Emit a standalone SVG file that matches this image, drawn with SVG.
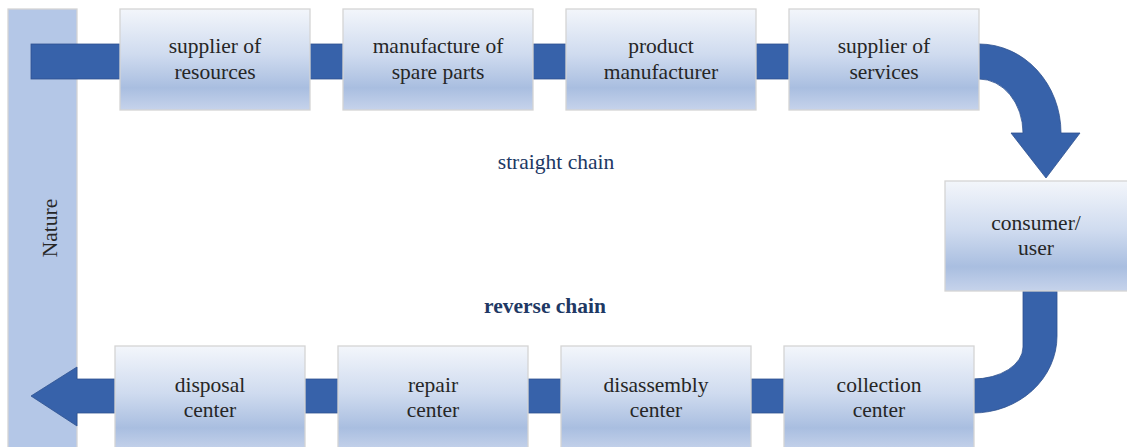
<svg xmlns="http://www.w3.org/2000/svg" width="1127" height="447" viewBox="0 0 1127 447">
<defs>
<linearGradient id="g" x1="0" y1="0" x2="0" y2="1">
<stop offset="0" stop-color="#f3f6fb"/>
<stop offset="0.45" stop-color="#cfdbef"/>
<stop offset="0.78" stop-color="#a9bee0"/>
<stop offset="1" stop-color="#c6d3eb"/>
</linearGradient>
<style>
.box{fill:url(#g);stroke:#d4d4d4;stroke-width:1.3}
.t{font-family:"Liberation Serif","Times New Roman",serif;font-size:21.5px;fill:#262626;text-anchor:middle}
.lab{font-family:"Liberation Serif","Times New Roman",serif;font-size:21.5px;fill:#203864;text-anchor:middle}
.band{fill:#3762aa;stroke:#2f528f;stroke-width:0.8}
</style>
</defs>
<rect width="1127" height="447" fill="#ffffff"/>
<g id="nature">
<rect x="8" y="9" width="69" height="445" fill="#b4c7e7" stroke="#d4d4d4" stroke-width="1.3"/>
<text class="t" transform="translate(57,228) rotate(-90)">Nature</text>
</g>
<g id="connectors">
<rect class="band" x="31" y="44" width="948" height="35"/>
<path class="band" d="M979,44 A82,89 0 0 1 1061,133 L1080,133 L1046,178 L1011,133 L1023,133 A44,54 0 0 0 979,79 Z"/>
<path class="band" d="M1023,291 L1057,291 L1057,336 A84,77 0 0 1 973,413 L973,379 A50,32 0 0 0 1023,347 Z"/>
<path class="band" d="M974,379 L974,413 L77,413 L77,426 L31,396 L77,367 L77,379 Z"/>
</g>
<g id="n1"><rect class="box" x="120" y="9" width="190" height="101"/><text class="t" x="215" y="53">supplier of</text><text class="t" x="215" y="79">resources</text></g>
<g id="n2"><rect class="box" x="343" y="9" width="190" height="101"/><text class="t" x="438" y="53">manufacture of</text><text class="t" x="438" y="79">spare parts</text></g>
<g id="n3"><rect class="box" x="566" y="9" width="190" height="101"/><text class="t" x="661" y="53">product</text><text class="t" x="661" y="79">manufacturer</text></g>
<g id="n4"><rect class="box" x="789" y="9" width="190" height="101"/><text class="t" x="884" y="53">supplier of</text><text class="t" x="884" y="79">services</text></g>
<g id="n5"><rect class="box" x="945" y="181" width="183" height="110"/><text class="t" x="1036" y="230">consumer/</text><text class="t" x="1036" y="255">user</text></g>
<g id="n6"><rect class="box" x="784" y="346" width="190" height="105"/><text class="t" x="879" y="392">collection</text><text class="t" x="879" y="417">center</text></g>
<g id="n7"><rect class="box" x="561" y="346" width="190" height="105"/><text class="t" x="656" y="392">disassembly</text><text class="t" x="656" y="417">center</text></g>
<g id="n8"><rect class="box" x="338" y="346" width="190" height="105"/><text class="t" x="433" y="392">repair</text><text class="t" x="433" y="417">center</text></g>
<g id="n9"><rect class="box" x="115" y="346" width="190" height="105"/><text class="t" x="210" y="392">disposal</text><text class="t" x="210" y="417">center</text></g>
<g id="labels">
<text class="lab" x="556" y="169">straight chain</text>
<text class="lab" x="545" y="313" font-weight="bold">reverse chain</text>
</g>
</svg>
